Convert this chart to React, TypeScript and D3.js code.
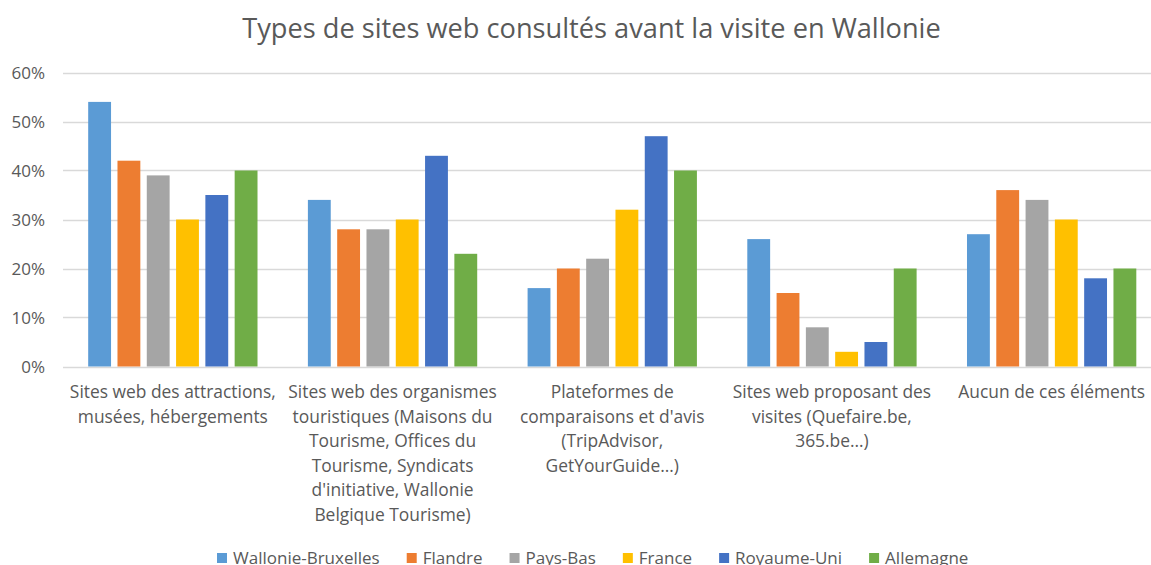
import React from "react";
import * as d3 from "d3";

const categories = [
  "Sites web des attractions, musées, hébergements",
  "Sites web des organismes touristiques (Maisons du Tourisme, Offices du Tourisme, Syndicats d'initiative, Wallonie Belgique Tourisme)",
  "Plateformes de comparaisons et d'avis (TripAdvisor, GetYourGuide…)",
  "Sites web proposant des visites (Quefaire.be, 365.be…)",
  "Aucun de ces éléments",
];
const categoryLines = [
  ["Sites web des attractions,", "musées, hébergements"],
  ["Sites web des organismes", "touristiques (Maisons du", "Tourisme, Offices du", "Tourisme, Syndicats", "d'initiative, Wallonie", "Belgique Tourisme)"],
  ["Plateformes de", "comparaisons et d'avis", "(TripAdvisor,", "GetYourGuide…)"],
  ["Sites web proposant des", "visites (Quefaire.be,", "365.be…)"],
  ["Aucun de ces éléments"],
];
const seriesNames = ["Wallonie-Bruxelles", "Flandre", "Pays-Bas", "France", "Royaume-Uni", "Allemagne"];
const walBxl = [0.54, 0.34, 0.16, 0.26, 0.27];
const flandre = [0.42, 0.28, 0.20, 0.15, 0.36];
const paysBas = [0.39, 0.28, 0.22, 0.08, 0.34];
const france = [0.30, 0.30, 0.32, 0.03, 0.30];
const royaumeUni = [0.35, 0.43, 0.47, 0.05, 0.18];
const allemagne = [0.40, 0.23, 0.40, 0.20, 0.20];
const seriesValues = [walBxl, flandre, paysBas, france, royaumeUni, allemagne];
const colors = ["#5B9BD5", "#ED7D31", "#A5A5A5", "#FFC000", "#4472C4", "#70AD47"];
const yTicks = [0, 0.1, 0.2, 0.3, 0.4, 0.5, 0.6];
const title = "Types de sites web consultés avant la visite en Wallonie";

const W = 1151;
const H = 565;
const FONT = "'Open Sans', sans-serif";
const TXT = "#595959";

function measure(text: string, size: number) {
  const c = document.createElement("canvas").getContext("2d")!;
  c.font = `${size}px ${FONT}`;
  return c.measureText(text).width;
}

export default function App() {
  const left = 63;
  const groupW = 219.7;
  const x = d3.scaleBand<string>().domain(categories).range([left, left + groupW * categories.length]).padding(0);
  const xi = d3.scaleBand<string>().domain(seriesNames).range([0, groupW]).paddingInner(0.22).paddingOuter(0.86);
  const y = d3.scaleLinear().domain([0, 0.6]).range([366.5, 72.5]);
  const fmt = d3.format(".0%");

  const legendFont = 17;
  let lx = 217;
  const legendItems = seriesNames.map((s, i) => {
    const item = { s, x: lx, color: colors[i] };
    lx += 16 + measure(s, legendFont) + 27;
    return item;
  });

  return (
    <svg width={W} height={H} style={{ position: "fixed", left: 0, top: 0, background: "#fff" }} fontFamily={FONT}>
      <rect width={W} height={H} fill="#fff" />
      <text x={591.5} y={38} textAnchor="middle" fontSize={27.2} fill={TXT}>{title}</text>
      {yTicks.map((t) => (
        <g key={t}>
          <line x1={left} x2={W} y1={Math.round(y(t)) + 0.5} y2={Math.round(y(t)) + 0.5} stroke="#D9D9D9" strokeWidth={1.3} />
          <text x={45} y={y(t) + 6} textAnchor="end" fontSize={17} fill={TXT}>{fmt(t)}</text>
        </g>
      ))}
      {categories.map((c, ci) => (
        <g key={c}>
          {seriesNames.map((s, si) => {
            const v = seriesValues[si][ci];
            return (
              <rect key={s} x={x(c)! + xi(s)!} y={y(v)} width={xi.bandwidth()} height={y(0) - y(v)} fill={colors[si]} />
            );
          })}
          {categoryLines[ci].map((ln, li) => (
            <text key={li} x={x(c)! + groupW / 2} y={398 + li * 24.5} textAnchor="middle" fontSize={17.4} fill={TXT}>{ln}</text>
          ))}
        </g>
      ))}
      {legendItems.map((it) => (
        <g key={it.s}>
          <rect x={it.x} y={553} width={10} height={10} fill={it.color} />
          <text x={it.x + 16} y={564} fontSize={legendFont} fill={TXT}>{it.s}</text>
        </g>
      ))}
    </svg>
  );
}
